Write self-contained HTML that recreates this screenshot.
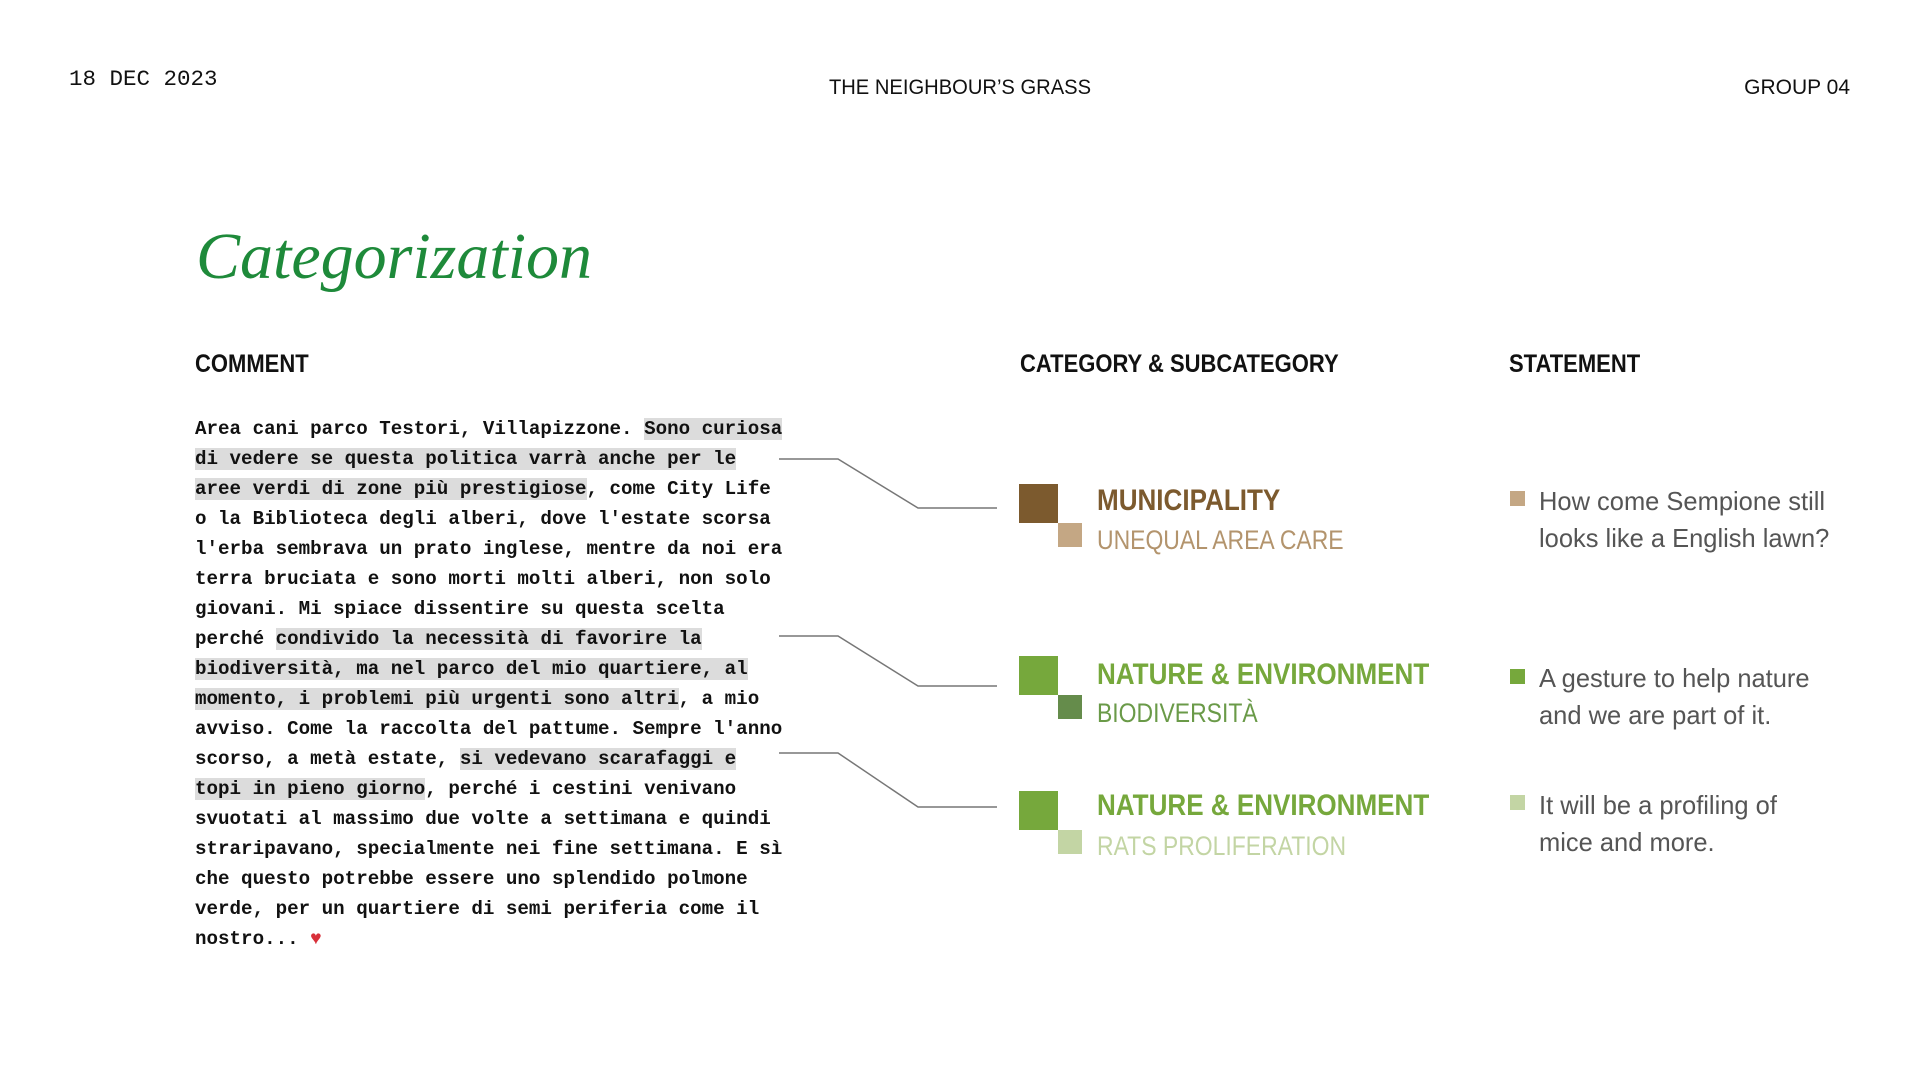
<!DOCTYPE html>
<html><head><meta charset="utf-8"><style>
*{margin:0;padding:0;box-sizing:border-box}
body{width:1920px;height:1080px;background:#fff;position:relative;overflow:hidden;font-family:"Liberation Sans",sans-serif;color:#111}
.a{position:absolute;white-space:nowrap}
.mono{font-family:"Liberation Mono",monospace}
.hdr{font-size:25px;font-weight:bold;transform:scaleX(0.88);transform-origin:left center;line-height:1}
.cm{font-family:"Liberation Mono",monospace;font-size:19.2px;font-weight:bold;line-height:30px;left:195px;color:#111}
.cm div{height:30px}
.h{background:#dcdcdc}
.sq{position:absolute}
.cat{font-size:30px;font-weight:bold;transform:scaleX(0.868);transform-origin:left center;line-height:1}
.sub{font-size:27px;transform:scaleX(0.85);transform-origin:left center;line-height:1}
.st{font-size:26px;color:#555;line-height:37px;transform:scaleX(0.98);transform-origin:left top}
</style></head><body>
<div class="a mono" style="left:69px;top:66px;font-size:22.5px">18 DEC 2023</div>
<div class="a" style="left:960px;top:76px;font-size:21px;transform:translateX(-50%) scaleX(0.96)">THE NEIGHBOUR’S GRASS</div>
<div class="a" style="right:70px;top:76px;font-size:21px;transform:scaleX(1.0);transform-origin:right">GROUP 04</div>
<div class="a" style="left:196px;top:224px;font-family:'Liberation Serif',serif;font-style:italic;font-size:66px;color:#1e8a3a;line-height:1">Categorization</div>
<div class="a hdr" style="left:195px;top:352px">COMMENT</div>
<div class="a hdr" style="left:1020px;top:352px">CATEGORY &amp; SUBCATEGORY</div>
<div class="a hdr" style="left:1509px;top:352px">STATEMENT</div>

<div class="a cm" style="top:414px">
<div>Area cani parco Testori, Villapizzone. <span class="h">Sono curiosa</span></div>
<div><span class="h">di vedere se questa politica varrà anche per le</span></div>
<div><span class="h">aree verdi di zone più prestigiose</span>, come City Life</div>
<div>o la Biblioteca degli alberi, dove l'estate scorsa</div>
<div>l'erba sembrava un prato inglese, mentre da noi era</div>
<div>terra bruciata e sono morti molti alberi, non solo</div>
<div>giovani. Mi spiace dissentire su questa scelta</div>
<div>perché <span class="h">condivido la necessità di favorire la </span></div>
<div><span class="h">biodiversità, ma nel parco del mio quartiere, al</span></div>
<div><span class="h">momento, i problemi più urgenti sono altri</span>, a mio</div>
<div>avviso. Come la raccolta del pattume. Sempre l'anno</div>
<div>scorso, a metà estate, <span class="h">si vedevano scarafaggi e</span></div>
<div><span class="h">topi in pieno giorno</span>, perché i cestini venivano</div>
<div>svuotati al massimo due volte a settimana e quindi</div>
<div>straripavano, specialmente nei fine settimana. E sì</div>
<div>che questo potrebbe essere uno splendido polmone</div>
<div>verde, per un quartiere di semi periferia come il</div>
<div>nostro... <span style="color:#d8303a">♥</span></div>
</div>

<svg class="a" style="left:0;top:0" width="1920" height="1080">
<g fill="none" stroke="#777" stroke-width="1.5">
<polyline points="779,459 838,459 918,508 997,508"/>
<polyline points="779,636 838,636 918,686 997,686"/>
<polyline points="779,753 838,753 918,807 997,807"/>
</g></svg>

<div class="sq" style="left:1019px;top:484px;width:39px;height:39px;background:#7c5a2e"></div>
<div class="sq" style="left:1058px;top:523px;width:24px;height:24px;background:#c4a784"></div>
<div class="sq" style="left:1019px;top:656px;width:39px;height:39px;background:#76a83c"></div>
<div class="sq" style="left:1058px;top:695px;width:24px;height:24px;background:#658c4b"></div>
<div class="sq" style="left:1019px;top:791px;width:39px;height:39px;background:#76a83c"></div>
<div class="sq" style="left:1058px;top:830px;width:24px;height:24px;background:#c3d5a4"></div>

<div class="a cat" style="left:1097px;top:486px;color:#7c5a2e">MUNICIPALITY</div>
<div class="a sub" style="left:1097px;top:527px;color:#b3946d">UNEQUAL AREA CARE</div>
<div class="a cat" style="left:1097px;top:660px;color:#76a83c">NATURE &amp; ENVIRONMENT</div>
<div class="a sub" style="left:1097px;top:700px;color:#6a9a48">BIODIVERSITÀ</div>
<div class="a cat" style="left:1097px;top:791px;color:#76a83c">NATURE &amp; ENVIRONMENT</div>
<div class="a sub" style="left:1097px;top:833px;color:#c3d5a4">RATS PROLIFERATION</div>

<div class="sq" style="left:1510px;top:491px;width:15px;height:15px;background:#c4a784"></div>
<div class="sq" style="left:1510px;top:669px;width:15px;height:15px;background:#76a83c"></div>
<div class="sq" style="left:1510px;top:795px;width:15px;height:15px;background:#c3d5a4"></div>
<div class="a st" style="left:1539px;top:483px">How come Sempione still<br>looks like a English lawn?</div>
<div class="a st" style="left:1539px;top:660px">A gesture to help nature<br>and we are part of it.</div>
<div class="a st" style="left:1539px;top:787px">It will be a profiling of<br>mice and more.</div>
</body></html>
